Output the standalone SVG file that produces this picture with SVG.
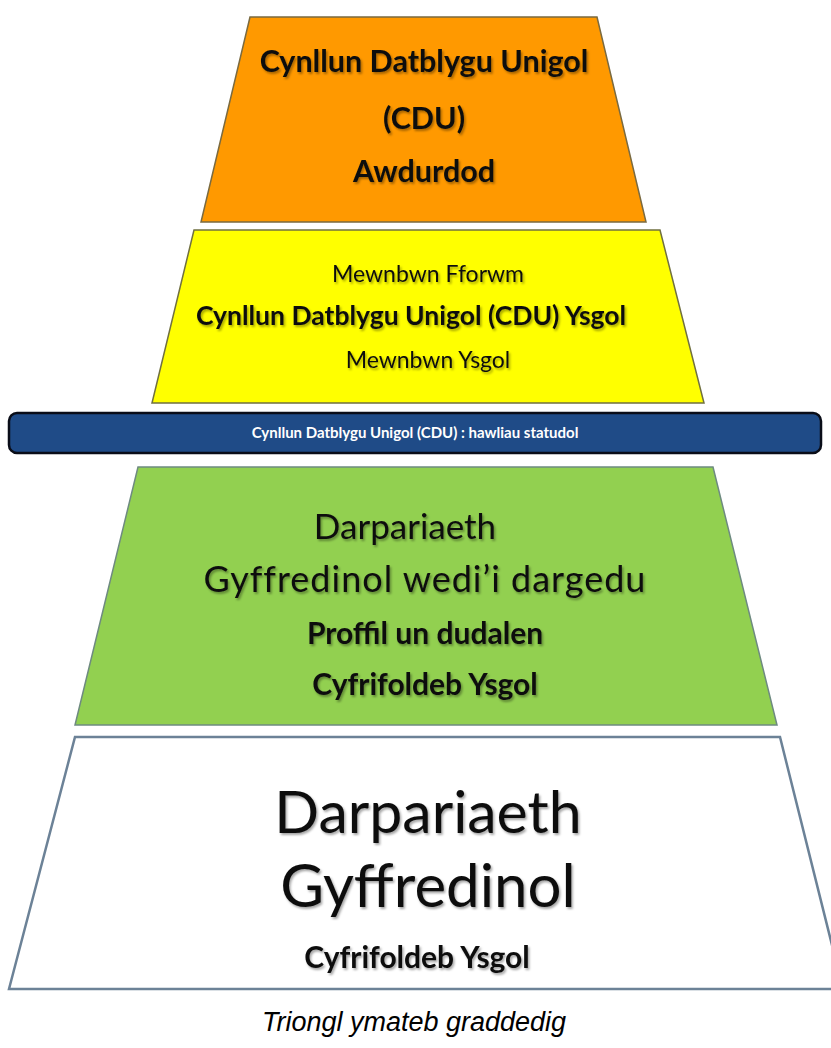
<svg xmlns="http://www.w3.org/2000/svg" width="831" height="1048" viewBox="0 0 831 1048">
  <defs>
    <filter id="ts" x="-5%" y="-20%" width="110%" height="150%">
      <feDropShadow dx="1.5" dy="2" stdDeviation="1.2" flood-color="#000" flood-opacity="0.35"/>
    </filter>
    <style>
      .t { font-family: Lato, "Open Sans", "Liberation Sans", sans-serif; fill: #111; text-anchor: middle; }
      .b { font-weight: bold; }
      .sh { filter: url(#ts); }
      .cap { font-family: "Liberation Sans", Arial, sans-serif; font-style: italic; font-size: 27px; fill: #000; text-anchor: middle; }
    </style>
  </defs>
  <rect width="831" height="1048" fill="#ffffff"/>

  <g id="orange">
    <polygon points="250,17 597,17 646,222 201,222" fill="#FF9900" stroke="#7a6a40" stroke-width="1.5"/>
    <g class="sh">
      <text class="t b" x="424" y="72" font-size="30.5">Cynllun Datblygu Unigol</text>
      <text class="t b" x="424" y="129" font-size="30.5">(CDU)</text>
      <text class="t b" x="424" y="182" font-size="30.5">Awdurdod</text>
    </g>
  </g>

  <g id="yellow">
    <polygon points="194,230 660,230 704,403 152,403" fill="#FFFF00" stroke="#707040" stroke-width="1.5"/>
    <g class="sh">
      <text class="t" x="428" y="282" font-size="23">Mewnbwn Fforwm</text>
      <text class="t b" x="411" y="325" font-size="26.5">Cynllun Datblygu Unigol (CDU) Ysgol</text>
      <text class="t" x="428" y="368" font-size="23">Mewnbwn Ysgol</text>
    </g>
  </g>

  <g id="bar">
    <rect x="9" y="413" width="812" height="40" rx="8" ry="8" fill="#1F4B87" stroke="#0a0d18" stroke-width="2.5"/>
    <text class="t b" x="415" y="438" font-size="15" style="fill:#ffffff">Cynllun Datblygu Unigol (CDU) : hawliau statudol</text>
  </g>

  <g id="green">
    <polygon points="138,467 713,467 777,725 75,725" fill="#92D050" stroke="#6e8a80" stroke-width="1.5"/>
    <g class="sh">
      <text class="t" x="405" y="539" font-size="35">Darpariaeth</text>
      <text class="t" x="425" y="592" font-size="36" letter-spacing="1">Gyffredinol wedi’i dargedu</text>
      <text class="t b" x="425" y="644" font-size="30">Proffil un dudalen</text>
      <text class="t b" x="425" y="695" font-size="30">Cyfrifoldeb Ysgol</text>
    </g>
  </g>

  <g id="white">
    <polygon points="75,737 780,737 843,989 9,989" fill="#ffffff" stroke="#6c8297" stroke-width="2.5"/>
    <g class="sh">
      <text class="t" x="428" y="833" font-size="59">Darpariaeth</text>
      <text class="t" x="428" y="907" font-size="60">Gyffredinol</text>
      <text class="t b" x="417" y="968" font-size="30">Cyfrifoldeb Ysgol</text>
    </g>
  </g>

  <text id="caption" class="cap" x="414" y="1031">Triongl ymateb graddedig</text>
</svg>
